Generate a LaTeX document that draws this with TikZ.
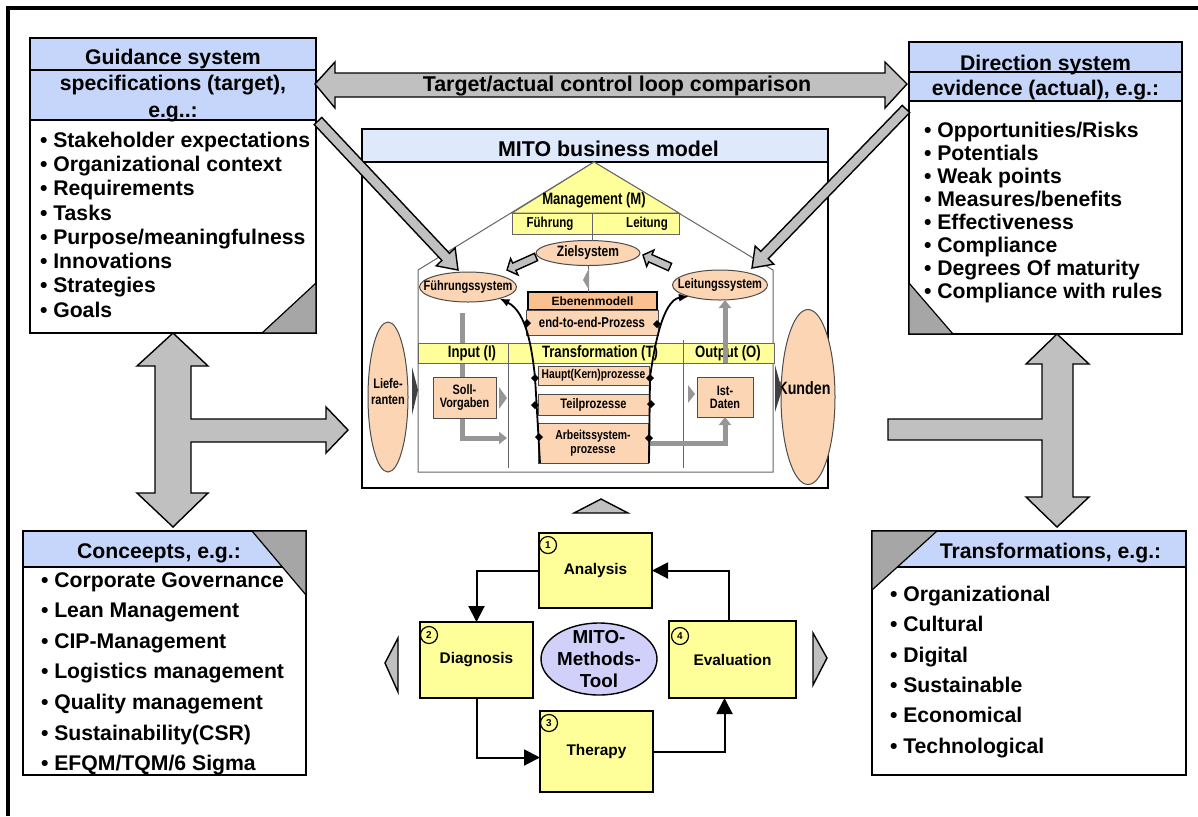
\documentclass[tikz,border=0pt]{standalone}
\usepackage{fontspec}
\setmainfont{Liberation Sans}
\newfontfamily\narrowsf[FakeStretch=0.8]{Liberation Sans}
\usetikzlibrary{arrows.meta,shapes.geometric,calc}

\definecolor{headblue}{RGB}{197,214,250}
\definecolor{titleblue}{RGB}{222,233,251}
\definecolor{paleyellow}{RGB}{255,255,153}
\definecolor{peach}{RGB}{252,213,180}
\definecolor{deeppeach}{RGB}{250,192,143}
\definecolor{lavender}{RGB}{208,208,250}
\definecolor{arrowgray}{RGB}{192,192,192}
\definecolor{cornergray}{RGB}{166,166,166}
\definecolor{pipegray}{RGB}{150,150,150}

% slanted block arrow: tail, tip, half shaft, half head, head length
\newcommand{\slantarrow}[5]{%
  \path (#1) coordinate (sa-s) (#2) coordinate (sa-e);
  \path ($(sa-e)!#5!(sa-s)$) coordinate (sa-h);
  \draw[blockarrow] ($(sa-s)!#3!90:(sa-e)$) -- ($(sa-h)!#3!90:(sa-e)$)
    -- ($(sa-h)!#4!90:(sa-e)$) -- (sa-e) -- ($(sa-h)!#4!-90:(sa-e)$)
    -- ($(sa-h)!#3!-90:(sa-e)$) -- ($(sa-s)!#3!-90:(sa-e)$) -- cycle;
}

\begin{document}
\begin{tikzpicture}[x=0.5pt, y=-0.5pt,
  every node/.style={inner sep=0pt, outer sep=0pt},
  panel/.style={draw, fill=white, line width=0.8pt, anchor=north west},
  head/.style={draw, fill=headblue, line width=0.8pt, anchor=north west},
  label/.style={font=\fontsize{10.6}{12.5}\selectfont\bfseries, text height=7.6pt, text depth=0pt},
  item/.style={label, anchor=west},
  corner/.style={draw, fill=cornergray, line width=0.6pt},
  blockarrow/.style={draw, fill=arrowgray, line width=0.7pt, line join=miter},
  house/.style={draw=black!60, line width=0.5pt},
  hfont/.style={font=\narrowsf\bfseries\fontsize{#1}{#1}\selectfont},
  proc/.style={draw=black!70, fill=peach, line width=0.5pt},
  blob/.style={ellipse, draw=black!70, fill=peach, line width=0.5pt},
  pipe/.style={draw=pipegray, line width=2.5pt, -{Triangle[length=4pt,width=6pt]}},
  funnel/.style={line width=0.9pt, {Latex[length=5pt,width=4pt]}-},
  dotmark/.style={diamond, fill=black, minimum size=4pt},
  phase/.style={draw, fill=paleyellow, line width=0.7pt, font=\fontsize{7.7}{9}\selectfont\bfseries},
  num/.style={draw, circle, line width=0.6pt, minimum size=8.5pt, font=\fontsize{5}{5}\selectfont\bfseries},
  cyc/.style={line width=1pt, -{Triangle[length=8pt,width=8pt]}}]

\useasboundingbox[fill=white] (0,0) rectangle (1198,816);
\draw[line width=1.6pt] (8,816) -- (8,8) -- (1198,8);

% guidance system (target)
\node[panel, minimum width=143pt, minimum height=147.5pt] (guide) at (30,38) {};
\node[head, minimum width=143pt, minimum height=16pt] (guideA) at (30,38) {};
\node[head, minimum width=143pt, minimum height=25pt] (guideB) at (30,70) {};
\node[label] (guideT1) at (173,56.4) {Guidance system};
\node[label] (guideT2) at (173,83) {specifications (target),};
\node[label] (guideT3) at (173,109.4) {e.g..:};
\foreach \t [count=\i] in {Stakeholder expectations, Organizational context, Requirements, Tasks, Purpose/meaningfulness, Innovations, Strategies, Goals}
  \node[item] (gl\i) at (40,{139.5+24.3*(\i-1)}) {\textbullet\ \t};
\draw[corner] (262,333) -- (316,283) -- (316,333) -- cycle;

% direction system (actual)
\node[panel, minimum width=136.5pt, minimum height=146pt] (direc) at (909,42) {};
\node[head, minimum width=136.5pt, minimum height=15pt] (direcA) at (909,42) {};
\node[head, minimum width=136.5pt, minimum height=14.5pt] (direcB) at (909,72) {};
\node[label] (direcT1) at (1045.5,62.4) {Direction system};
\node[label] (direcT2) at (1045.5,87.4) {evidence (actual), e.g.:};
\foreach \t [count=\i] in {Opportunities/Risks, Potentials, Weak points, Measures/benefits, Effectiveness, Compliance, Degrees Of maturity, Compliance with rules}
  \node[item] (dl\i) at (924,{129.5+23*(\i-1)}) {\textbullet\ \t};
\draw[corner] (909,283) -- (953,334) -- (909,334) -- cycle;

% concepts
\node[panel, minimum width=141.5pt, minimum height=122pt] (conc) at (23,531) {};
\node[head, minimum width=141.5pt, minimum height=18pt] (concA) at (23,531) {};
\node[label] (concT) at (159,550.5) {Conceepts, e.g.:};
\foreach \t [count=\i] in {Corporate Governance, Lean Management, CIP-Management, Logistics management, Quality management, Sustainability(CSR), EFQM/TQM/6 Sigma}
  \node[item] (cl\i) at (41,{579.5+30.6*(\i-1)}) {\textbullet\ \t};
\draw[corner] (252,531) -- (306,531) -- (306,595) -- cycle;

% transformations
\node[panel, minimum width=157pt, minimum height=122pt] (trans) at (872,531) {};
\node[head, minimum width=157pt, minimum height=18pt] (transA) at (872,531) {};
\node[label] (transT) at (1050.5,550.5) {Transformations, e.g.:};
\foreach \t [count=\i] in {Organizational, Cultural, Digital, Sustainable, Economical, Technological}
  \node[item] (tl\i) at (890,{594+30.3*(\i-1)}) {\textbullet\ \t};
\draw[corner] (872,531) -- (937,531) -- (872,590) -- cycle;

% big block arrows
\draw[blockarrow] (315,84) -- (335,62) -- (335,73) -- (885,73) -- (885,62) -- (907,84)
  -- (885,108) -- (885,97) -- (335,97) -- (335,108) -- cycle;
\node[label, font=\fontsize{10.7}{12.5}\selectfont\bfseries] (loop) at (617,84) {Target/actual control loop comparison};
\draw[blockarrow] (173,333) -- (208,366) -- (191,366) -- (191,419) -- (326,419) -- (326,407)
  -- (348,430) -- (326,453) -- (326,442) -- (191,442) -- (191,493) -- (208,493) -- (173,527)
  -- (137,493) -- (155,493) -- (155,366) -- (137,366) -- cycle;
\draw[blockarrow] (1057,334) -- (1089,364) -- (1073,364) -- (1073,497) -- (1089,497) -- (1057,527)
  -- (1026,497) -- (1042,497) -- (1042,440) -- (888,440) -- (888,419) -- (1042,419)
  -- (1042,364) -- (1026,364) -- cycle;

% MITO business model
\node[panel, minimum width=233pt, minimum height=179.5pt] (mito) at (362,129) {};
\node[draw, fill=titleblue, line width=0.8pt, anchor=north west, minimum width=233pt, minimum height=16.5pt] (mitoA) at (362,129) {};
\node[label, font=\fontsize{10.7}{12.5}\selectfont\bfseries] (mitoT) at (608.5,148.5) {MITO business model};

\draw[house] (418,472) -- (418,270) -- (594,162) -- (773,270) -- (773,472) -- cycle;
\draw[house, fill=paleyellow] (594,162) -- (512,213) -- (679,213) -- cycle;
\node[hfont=8.2] (mgmt) at (594,200) {Management (M)};
\node[house, fill=paleyellow, anchor=north west, minimum width=40pt, minimum height=10.5pt] (fhr) at (512,213) {};
\node[house, fill=paleyellow, anchor=north west, minimum width=43.5pt, minimum height=10.5pt] (ltg) at (592,213) {};
\node[hfont=7.2] (fhrT) at (550,224) {Führung};
\node[hfont=7.2] (ltgT) at (647,224) {Leitung};

\node[blob, minimum width=52pt, minimum height=12.5pt] (ziel) at (588,253) {};
\node[hfont=7.5] (zielT) at (ziel) {Zielsystem};
\node[blob, minimum width=48.5pt, minimum height=15pt] (fuehr) at (468,287) {};
\node[hfont=6.9] (fuehrT) at (fuehr) {Führungssystem};
\node[blob, minimum width=47.5pt, minimum height=15pt] (leit) at (720,285) {};
\node[hfont=6.9] (leitT) at (leit) {Leitungssystem};
\draw[house] (fhr.south east) -- (fhr.south east |- ziel.north);
\slantarrow{536,257}{507,270}{2pt}{4.5pt}{4pt}
\slantarrow{670,267}{643,255}{2pt}{4.5pt}{4pt}

\node[draw, line width=0.6pt, fill=deeppeach, minimum width=64.5pt, minimum height=9pt, font=\bfseries\fontsize{6}{6}\selectfont] (eben) at (592.5,301) {Ebenenmodell};
\node[proc, minimum width=66pt, minimum height=12.5pt, hfont=7.1] (e2e) at (592,322.5) {end-to-end-Prozess};
\draw[house] (ziel.south) -- (ziel.south |- eben.north);
\fill[pipegray] (589,268) -- (583,280) -- (589,290) -- cycle;

\coordinate (inTop) at (462,313);
\coordinate (inEnd) at (507,438);
\draw[pipe] (inTop) |- (inEnd);

\node[draw=black!60, fill=paleyellow, line width=0.5pt, anchor=north west, minimum width=178pt, minimum height=10pt] (band) at (418,343) {};
\draw[house] (508,343) -- (508,468);
\draw[house] (683,340) -- (683,468);
\node[hfont=8.2] (inT) at (472,353) {Input (I)};
\node[hfont=8.2] (trT) at (600,353) {Transformation (T)};
\node[hfont=8.2] (outT) at (728,353) {Output (O)};

\node[proc, minimum width=55.5pt, minimum height=9.5pt, hfont=6.4] (haupt) at (593.5,375.5) {Haupt(Kern)prozesse};
\node[proc, minimum width=55.5pt, minimum height=10.5pt, hfont=6.9] (teil) at (593.5,404.5) {Teilprozesse};
\node[proc, minimum width=55pt, minimum height=20pt, align=center, font=\narrowsf\bfseries\fontsize{6.5}{7}\selectfont] (arbeit) at (593,443) {Arbeitssystem-\\prozesse};
\node[proc, minimum width=31.5pt, minimum height=20.5pt, align=center, font=\narrowsf\bfseries\fontsize{6.8}{6.6}\selectfont] (soll) at (464.5,397.5) {Soll-\\Vorgaben};
\node[proc, minimum width=28pt, minimum height=20pt, align=center, font=\narrowsf\bfseries\fontsize{6.8}{6.6}\selectfont] (ist) at (725,397) {Ist-\\Daten};
\draw[pipe] (arbeit.east) -| (ist.south);
\draw[pipe] (ist.north |- band.south) -- (ist.north |- leit.south);
\fill[pipegray] (499,387) -- (507,398) -- (499,409) -- cycle;
\fill[pipegray] (688,385) -- (695,394) -- (688,403) -- cycle;

\draw[funnel] (fuehr.-20) .. controls (527,312) and (532,350) .. (535,377) -- (540,463);
\draw[funnel] (leit.200) .. controls (662,300) and (654,350) .. (650,377) -- (649,463);
\foreach \p [count=\i] in {{527,323},{535,378},{535,405},{539,437},{657,324},{650,378},{651,404},{649,438}}
  \node[dotmark] (dm\i) at (\p) {};

\node[blob, minimum width=20pt, minimum height=75pt] (lief) at (388,397) {};
\node[align=center, font=\narrowsf\bfseries\fontsize{6.9}{8}\selectfont] (liefT) at (388,392) {Liefe-\\ranten};
\node[blob, minimum width=27pt, minimum height=87.5pt] (kund) at (808,397) {};
\node[hfont=8.9] (kundT) at (804,388) {Kunden};
\fill[black!75] (412,367) -- (418,390) -- (412,415) -- cycle;
\fill[black!75] (775,365) -- (782,390) -- (775,412) -- cycle;

% slanted arrows into the model
\slantarrow{318,121}{458,270}{2.6pt}{6.5pt}{9pt}
\slantarrow{906,109}{752,268}{2.6pt}{6.5pt}{9pt}

% MITO methods tool cycle
\draw[blockarrow] (574,513) -- (601,499) -- (628,513) -- cycle;
\draw[blockarrow] (398,638) -- (385,663) -- (398,692) -- cycle;
\draw[blockarrow] (813,633) -- (827,658) -- (813,685) -- cycle;
\node[phase, minimum width=56.5pt, minimum height=37.5pt] (ana) at (595.5,570.5) {Analysis};
\node[phase, minimum width=56.5pt, minimum height=38pt] (diag) at (476.5,660) {Diagnosis};
\node[phase, minimum width=56.5pt, minimum height=40.5pt] (ther) at (596.5,751.5) {Therapy};
\node[phase, minimum width=63.5pt, minimum height=38.5pt] (eval) at (732.5,659.5) {Evaluation};
\node[num] (n1) at (548,545) {1};
\node[num] (n2) at (429,635) {2};
\node[num] (n3) at (549,723) {3};
\node[num] (n4) at (680,636) {4};
\node[ellipse, draw, fill=lavender, line width=0.7pt, minimum width=58pt, minimum height=36pt] (tool) at (599,659) {};
\node[align=center, font=\bfseries\fontsize{9.4}{11.2}\selectfont] (toolT) at (tool) {MITO-\\Methods-\\Tool};
\draw[cyc] (ana.west) -| (diag.north);
\draw[cyc] (diag.south) |- ([yshift=-3pt]ther.west);
\draw[cyc] (ther.east) -| ([xshift=-4pt]eval.south);
\draw[cyc] ([xshift=-2pt]eval.north) |- (ana.east);
\end{tikzpicture}
\end{document}
